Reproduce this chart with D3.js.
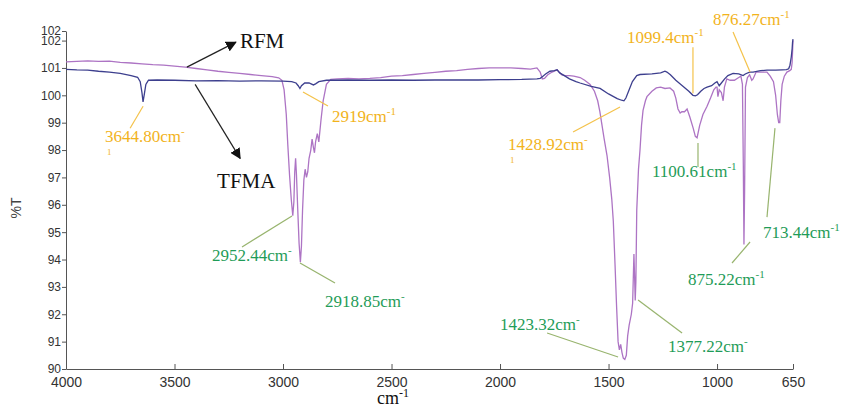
<!DOCTYPE html>
<html>
<head>
<meta charset="utf-8">
<script src="https://cdn.jsdelivr.net/npm/d3@7"></script>
<style>
  body { margin: 0; background: #fff; }
  svg { display: block; }
</style>
</head>
<body>
<div id="chart"></div>
<script>
// FTIR spectra of RFM and TFMA (% transmittance vs wavenumber)

// RFM (violet trace)
const rfmWn = [4000, 3950, 3900, 3850, 3800, 3750, 3700, 3650, 3600, 3550, 3500, 3450, 3400, 3350, 3300, 3250, 3200, 3150, 3100, 3050, 3020, 3005,
  2995, 2985, 2978, 2970, 2962, 2955, 2950, 2946, 2942, 2938, 2932, 2926, 2920, 2915, 2910, 2904, 2898, 2892, 2886, 2880, 2872, 2866, 2860, 2855,
  2850, 2842, 2835, 2825, 2815, 2800, 2780, 2750, 2700, 2650, 2600, 2550, 2500, 2450, 2400, 2350, 2300, 2250, 2200, 2150, 2100, 2050, 2000, 1950,
  1900, 1860, 1830, 1815, 1805, 1795, 1780, 1760, 1745, 1737, 1728, 1715, 1700, 1680, 1660, 1631, 1610, 1585, 1565, 1550, 1540, 1530, 1520, 1507,
  1495, 1485, 1478, 1470, 1463, 1456, 1450, 1444, 1438, 1432, 1425, 1418, 1412, 1405, 1395, 1389, 1385, 1383, 1380, 1377, 1374, 1370, 1362, 1355,
  1348, 1341, 1330, 1323, 1300, 1280, 1260, 1240, 1217, 1200, 1190, 1180, 1170, 1162, 1150, 1138, 1125, 1110, 1100, 1092, 1080, 1065, 1046, 1030,
  1015, 1005, 1000, 996, 990, 980, 972, 966, 955, 940, 920, 900, 890, 883, 879, 876, 873, 869, 860, 850, 840, 834, 820, 811, 790, 770, 755, 740,
  730, 722, 716, 711, 706, 700, 690, 678, 665, 658, 654, 652, 650];
const rfmT = [101.22, 101.24, 101.26, 101.24, 101.25, 101.2, 101.18, 101.15, 101.12, 101.1, 101.07, 101.03, 100.98, 100.93, 100.88, 100.84, 100.8, 100.76, 100.72, 100.68, 100.64, 100.55,
  100.2, 99.3, 98.2, 97.1, 96.2, 95.6, 96.1, 97.2, 97.7, 97.1, 95.8, 94.6, 93.9, 94.5, 95.8, 96.9, 97.3, 97.0, 97.2, 97.7, 98.0, 98.4, 98.1, 97.9,
  98.3, 98.6, 98.3, 99.1, 99.8, 100.4, 100.58, 100.6, 100.62, 100.6, 100.62, 100.65, 100.7, 100.72, 100.76, 100.8, 100.84, 100.88, 100.9, 100.95, 100.98, 101.0, 101.0, 101.0,
  100.98, 100.96, 101.0, 100.85, 100.6, 100.62, 100.75, 100.85, 100.9, 100.93, 100.85, 100.75, 100.72, 100.72, 100.7, 100.65, 100.55, 100.4, 100.15, 99.8, 99.4, 98.9, 98.4, 97.8,
  97.0, 96.2, 95.4, 93.8, 92.3, 91.0, 90.7, 90.9, 90.6, 90.4, 90.35, 90.5, 91.2, 91.6, 92.0, 92.4, 93.6, 94.2, 93.4, 92.5, 93.2, 95.8, 97.3, 98.0,
  98.9, 99.45, 99.8, 99.95, 100.15, 100.27, 100.3, 100.25, 100.27, 100.15, 99.9, 99.5, 99.35, 99.4, 99.4, 99.5, 99.2, 98.8, 98.5, 98.45, 98.9, 99.3, 99.6, 99.9,
  100.2, 100.3, 100.3, 99.95, 100.2, 100.1, 99.8, 100.3, 100.6, 100.55, 100.55, 100.65, 100.7, 100.4, 97.5, 94.55, 96.5, 100.3, 100.65, 100.75, 100.55, 100.6, 100.85, 100.85, 100.85, 100.85, 100.7, 100.5,
  100.0, 99.3, 99.0, 99.0, 99.8, 100.4, 100.7, 100.85, 100.9, 100.95, 101.2, 101.6, 102.0];

// TFMA (navy trace)
const tfmaWn = [4000, 3950, 3900, 3850, 3800, 3750, 3700, 3670, 3658, 3650, 3645, 3640, 3632, 3620, 3580, 3500, 3400, 3300, 3200, 3100, 3000, 2960,
  2940, 2930, 2922, 2915, 2900, 2880, 2860, 2850, 2835, 2800, 2700, 2600, 2500, 2400, 2300, 2200, 2100, 2000, 1900, 1830, 1815, 1805, 1790, 1770,
  1750, 1737, 1725, 1700, 1680, 1650, 1631, 1580, 1539, 1500, 1460, 1440, 1429, 1420, 1405, 1390, 1370, 1355, 1300, 1260, 1240, 1231, 1215, 1190,
  1160, 1130, 1111, 1100, 1090, 1075, 1060, 1046, 1025, 1010, 1000, 990, 980, 965, 950, 926, 900, 880, 870, 850, 834, 800, 770, 730, 700, 680,
  670, 664, 658, 654, 652, 650];
const tfmaT = [100.95, 100.93, 100.92, 100.88, 100.85, 100.8, 100.72, 100.66, 100.5, 100.1, 99.76, 100.0, 100.4, 100.55, 100.56, 100.55, 100.53, 100.54, 100.52, 100.53, 100.52, 100.5,
  100.45, 100.35, 100.25, 100.35, 100.45, 100.45, 100.38, 100.42, 100.5, 100.55, 100.56, 100.55, 100.56, 100.55, 100.56, 100.56, 100.56, 100.57, 100.58, 100.6, 100.62, 100.68, 100.78, 100.88,
  100.9, 100.93, 100.82, 100.7, 100.6, 100.5, 100.45, 100.33, 100.25, 100.05, 99.88, 99.82, 99.8, 99.9, 100.2, 100.5, 100.72, 100.76, 100.78, 100.82, 100.88, 100.85, 100.75, 100.55,
  100.35, 100.15, 100.0, 99.98, 100.02, 100.15, 100.25, 100.3, 100.35, 100.45, 100.5, 100.35, 100.45, 100.6, 100.72, 100.8, 100.78, 100.72, 100.78, 100.85, 100.85, 100.9, 100.92, 100.92, 100.93, 100.94,
  100.97, 101.1, 101.4, 101.7, 101.95, 102.05];

// axis ticks
const xTicks = [4000, 3500, 3000, 2500, 2000, 1500, 1000, 650];
const yTicks = [90, 91, 92, 93, 94, 95, 96, 97, 98, 99, 100, 101, 102, 102.35];

// peak labels: at = wavenumber / %T where the leader starts
const peakText = ['3644.80cm', '2919cm', '1428.92cm', '1099.4cm', '876.27cm',
  '2952.44cm', '2918.85cm', '1423.32cm', '1377.22cm', '1100.61cm', '875.22cm', '713.44cm'];
const peakSup = ['-', '-1', '-', '-1', '-1', '-', '-', '-', '-', '-1', '-1', '-1'];
const peakWrap = ['1', '', '1', '', '', '', '', '', '', '', '', ''];
const peakGroup = ['o', 'o', 'o', 'o', 'o', 'g', 'g', 'g', 'g', 'g', 'g', 'g'];
const peakAtWn = [3644.8, 2908, 1447, 1111, 848, 2958.6, 2921.7, 1456, 1364, 1087.8, 848, 733];
const peakAtT = [99.6, 100.12, 99.57, 100.08, 100.85, 95.59, 93.87, 90.44, 92.52, 98.26, 94.64, 98.8];

const width = 845, height = 405;
const margin = { top: 31, right: 52, bottom: 36, left: 66 };
const serif = "'Liberation Serif', 'Times New Roman', serif";

const colors = {
  rfm: '#ad74c4',
  tfma: '#3d3f8e',
  o: '#f2b31c', oLine: '#f4c24a',
  g: '#1f9c58', gLine: '#98b46e',
  axis: '#555'
};

// leader line end / text offsets (px) relative to the anchor
const leaderEnd = [[-13, 22], [25, 14], [-47, 25], [0, -46], [-17, -40],
  [-50, 31], [35, 20], [-71, -24], [44, 33], [0, 24], [-18, 21], [-8, 89]];
const textOff = [[-38, 36], [29, 30], [-112, 43], [-66, -50], [-37, -47],
  [-80, 45], [25, 44], [-118, -27], [30, 52], [-46, 34], [-62, 43], [-12, 110]];

const svg = d3.select('#chart').append('svg')
  .attr('width', width)
  .attr('height', height);

const x = d3.scaleLinear().domain([4000, 650]).range([margin.left, width - margin.right]);
const y = d3.scaleLinear().domain([90, 102.35]).range([height - margin.bottom, margin.top]);

// axes
const yAxis = svg.append('g')
  .attr('transform', `translate(${margin.left},0)`)
  .call(d3.axisLeft(y).tickValues(yTicks).tickFormat(d3.format('.0f')).tickSize(4).tickPadding(1).tickSizeOuter(0));
yAxis.selectAll('text').attr('font-family', "'Liberation Sans', Arial, sans-serif").attr('font-size', 12).attr('fill', '#333');

const xAxis = svg.append('g')
  .attr('transform', `translate(0,${height - margin.bottom})`)
  .call(d3.axisBottom(x).tickValues(xTicks).tickFormat(d3.format('d')).tickSize(-5).tickPadding(8).tickSizeOuter(0));
xAxis.selectAll('text').attr('font-family', "'Liberation Sans Narrow', 'Arial Narrow', sans-serif").attr('font-size', 14).attr('fill', '#333');

svg.selectAll('.domain, .tick line').attr('stroke', colors.axis);

svg.append('text')
  .attr('transform', 'translate(21,208) rotate(-90)')
  .attr('text-anchor', 'middle')
  .attr('font-family', "'Liberation Sans', Arial, sans-serif")
  .attr('font-size', 14)
  .attr('fill', '#444')
  .text('%T');

const xTitle = svg.append('text')
  .attr('x', 377).attr('y', 404)
  .attr('font-family', serif)
  .attr('font-size', 18)
  .attr('fill', '#111')
  .text('cm');
xTitle.append('tspan').attr('dy', -7).attr('font-size', 12).text('-1');

// spectra
const line = d3.line().x(d => x(d[0])).y(d => y(d[1]));
svg.append('path')
  .datum(rfmWn.map((w, i) => [w, rfmT[i]]))
  .attr('d', line)
  .attr('fill', 'none')
  .attr('stroke', colors.rfm)
  .attr('stroke-width', 1.3);
svg.append('path')
  .datum(tfmaWn.map((w, i) => [w, tfmaT[i]]))
  .attr('d', line)
  .attr('fill', 'none')
  .attr('stroke', colors.tfma)
  .attr('stroke-width', 1.3);

// series name arrows
svg.append('defs').append('marker')
  .attr('id', 'head')
  .attr('viewBox', '0 0 10 10')
  .attr('refX', 9).attr('refY', 5)
  .attr('markerWidth', 9).attr('markerHeight', 9)
  .attr('orient', 'auto')
  .append('path').attr('d', 'M0,0L10,5L0,10Z').attr('fill', '#111');

const names = [
  { name: 'RFM', wn: 3443, t: 101.03, head: [49, -25], text: [53, -19] },
  { name: 'TFMA', wn: 3405, t: 100.4, head: [45, 74], text: [22, 104] }
];
names.forEach(n => {
  const ax = x(n.wn), ay = y(n.t);
  svg.append('line')
    .attr('x1', ax).attr('y1', ay)
    .attr('x2', ax + n.head[0]).attr('y2', ay + n.head[1])
    .attr('stroke', '#222').attr('stroke-width', 1.2)
    .attr('marker-end', 'url(#head)');
  svg.append('text')
    .attr('x', ax + n.text[0]).attr('y', ay + n.text[1])
    .attr('font-family', serif)
    .attr('font-size', 21)
    .attr('fill', '#111')
    .text(n.name);
});

// peak annotations
peakText.forEach((label, i) => {
  const ax = x(peakAtWn[i]), ay = y(peakAtT[i]);
  const g = peakGroup[i];
  svg.append('line')
    .attr('x1', ax).attr('y1', ay)
    .attr('x2', ax + leaderEnd[i][0]).attr('y2', ay + leaderEnd[i][1])
    .attr('stroke', colors[g + 'Line']).attr('stroke-width', 1.2);
  const t = svg.append('text')
    .attr('x', ax + textOff[i][0]).attr('y', ay + textOff[i][1])
    .attr('font-family', serif)
    .attr('font-size', 17)
    .attr('fill', colors[g])
    .text(label);
  t.append('tspan').attr('dy', -7).attr('font-size', 11).text(peakSup[i]);
  if (peakWrap[i]) {
    svg.append('text')
      .attr('x', ax + textOff[i][0] + 2).attr('y', ay + textOff[i][1] + 13)
      .attr('font-family', serif)
      .attr('font-size', 9)
      .attr('fill', colors[g])
      .text(peakWrap[i]);
  }
});
</script>
</body>
</html>
